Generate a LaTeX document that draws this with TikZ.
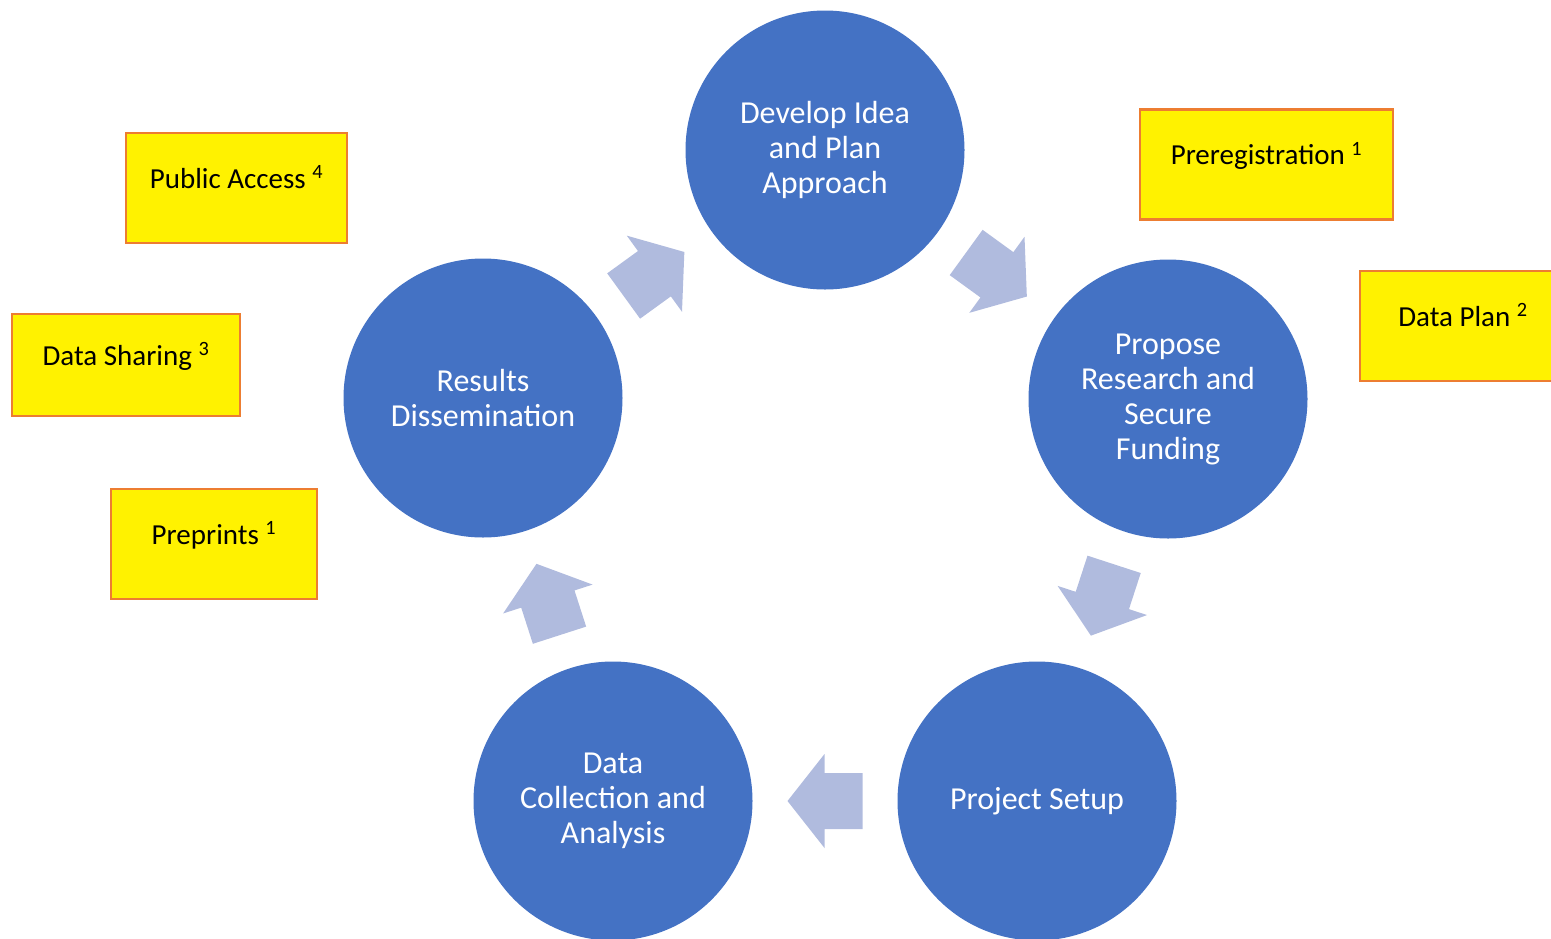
\documentclass[tikz,border=0pt]{standalone}
\usepackage{fontspec}
\setmainfont{Carlito}
\definecolor{stageblue}{HTML}{4472C4}
\definecolor{flowblue}{HTML}{B0BBDE}
\definecolor{tagorange}{HTML}{ED7D31}

\begin{document}
\begin{tikzpicture}[x=1pt, y=-1pt,
stagenode/.style={circle, fill=stageblue, minimum size=279pt, inner sep=0pt, text=white, align=center, font=\fontsize{32}{35}\selectfont},
tagnode/.style={draw=tagorange, fill=yellow, line width=2.5pt, minimum height=110pt, text height=20pt, text depth=20pt, font=\fontsize{29}{34}\selectfont},
flowarrow/.pic={\fill[flowblue] (-37.5,-28) -- (0.5,-28) -- (0.5,-47) -- (37.5,0) -- (0.5,47) -- (0.5,28) -- (-37.5,28) -- cycle;},
]
\useasboundingbox (0,0) rectangle (1551,938);
\clip (0,0) rectangle (1551,938);

%Stages
\node[stagenode] (develop) at (825,150) {Develop Idea\\and Plan\\Approach};
\node[stagenode] (propose) at (1168,399) {Propose\\Research and\\Secure\\Funding};
\node[stagenode] (setup)   at (1037,801) {Project Setup};
\node[stagenode] (collect) at (613,801)  {Data\\Collection and\\Analysis};
\node[stagenode] (results) at (483,398)  {Results\\Dissemination};

%Flow
\path (results) -- (develop) pic[midway, sloped, allow upside down] {flowarrow};
\path (develop) -- (propose) pic[midway, sloped, allow upside down] {flowarrow};
\path (propose) -- (setup)   pic[midway, sloped, allow upside down] {flowarrow};
\path (setup)   -- (collect) pic[midway, sloped, allow upside down] {flowarrow};
\path (collect) -- (results) pic[midway, sloped, allow upside down] {flowarrow};

%Tags
\node[tagnode, minimum width=221pt] (access)  at (236.5,188)  {Public Access \textsuperscript{4}};
\node[tagnode, minimum width=228pt, minimum height=102pt] (sharing) at (126,365) {Data Sharing \textsuperscript{3}};
\node[tagnode, minimum width=206pt] (preprint) at (214,544)   {Preprints \textsuperscript{1}};
\node[tagnode, minimum width=253pt] (prereg)  at (1266.5,164.5) {Preregistration \textsuperscript{1}};
\node[tagnode, minimum width=206pt] (dataplan) at (1463,326)  {Data Plan \textsuperscript{2}};

\end{tikzpicture}
\end{document}
